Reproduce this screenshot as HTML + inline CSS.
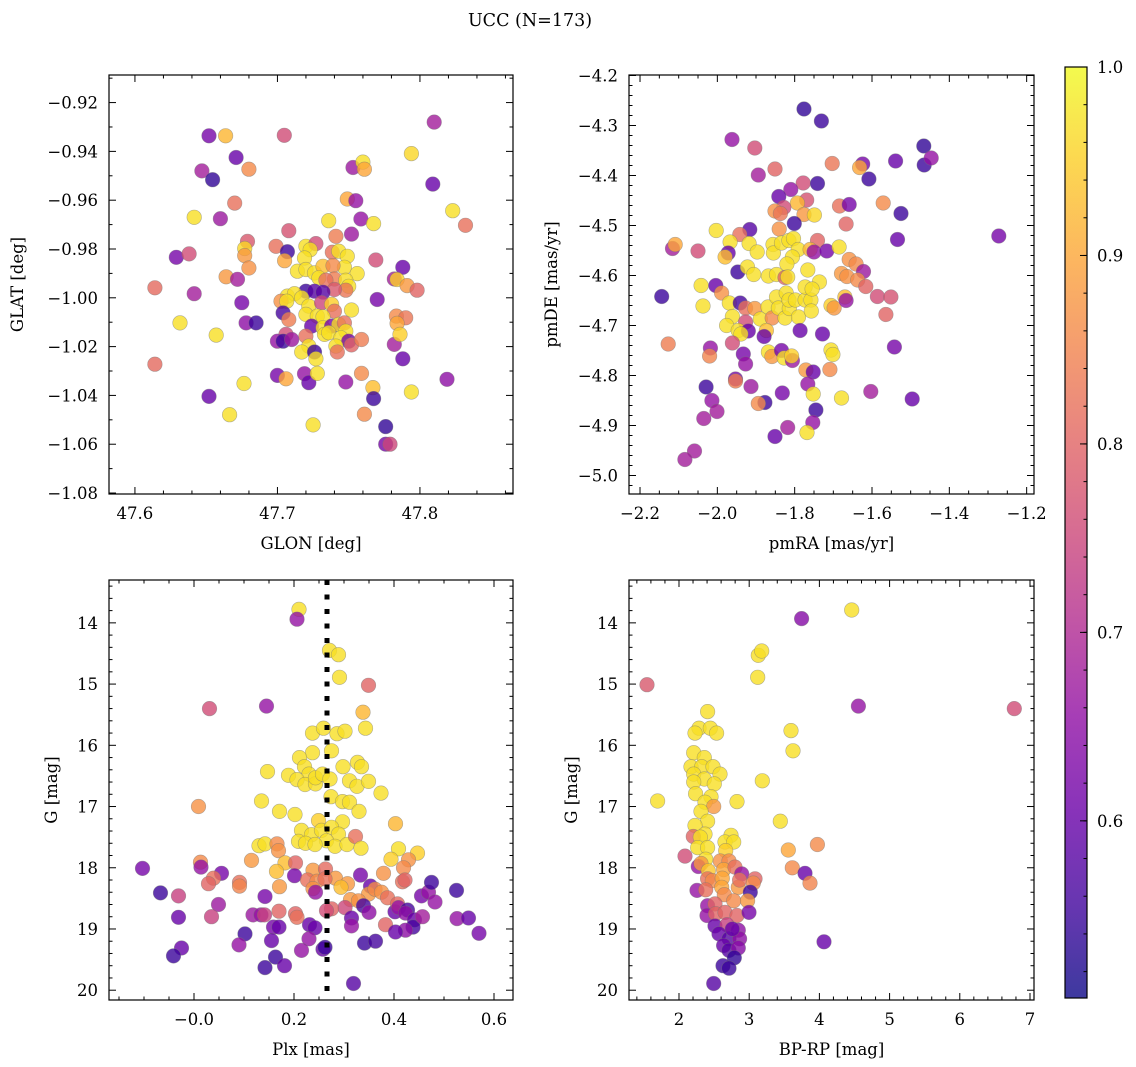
<!DOCTYPE html>
<html><head><meta charset="utf-8"><title>UCC (N=173)</title>
<style>
html,body{margin:0;padding:0;background:#fff;}
svg{display:block;font-family:"DejaVu Serif","Liberation Serif",serif;}
</style></head>
<body>
<svg id="fig" width="1136" height="1067" viewBox="0 0 1136 1067" xmlns="http://www.w3.org/2000/svg">
<defs>
<linearGradient id="plasmaGrad" x1="0" y1="1" x2="0" y2="0">
<stop offset="0" stop-color="#0d0887"/><stop offset="0.1" stop-color="#41049d"/><stop offset="0.2" stop-color="#6a00a8"/><stop offset="0.3" stop-color="#8f0da4"/><stop offset="0.4" stop-color="#b12a90"/><stop offset="0.5" stop-color="#cc4778"/><stop offset="0.6" stop-color="#e16462"/><stop offset="0.7" stop-color="#f2844b"/><stop offset="0.8" stop-color="#fca636"/><stop offset="0.9" stop-color="#fcce25"/><stop offset="1" stop-color="#f0f921"/>
</linearGradient>
</defs>
<text x="530" y="26" text-anchor="middle" font-size="17.5">UCC (N=173)</text>
</svg>
<script>
// ---------- data ----------
const glon=[47.652,47.6636,47.7048,47.810,47.671,47.647,47.6545,47.680,47.753,47.760,47.761,47.794,47.809,47.670,47.749,47.755,47.6416,47.660,47.823,47.832,47.736,47.7586,47.7675,47.708,47.741,47.752,47.679,47.677,47.677,47.680,47.699,47.707,47.705,47.720,47.727,47.723,47.719,47.714,47.720,47.726,47.732,47.729,47.7385,47.743,47.749,47.747,47.739,47.740,47.734,47.756,47.748,47.750,47.748,47.740,47.769,47.788,47.782,47.784,47.791,47.798,47.614,47.629,47.638,47.6416,47.664,47.672,47.675,47.678,47.685,47.6316,47.657,47.614,47.652,47.6664,47.6765,47.720,47.726,47.732,47.707,47.712,47.7025,47.7065,47.717,47.704,47.708,47.722,47.731,47.738,47.740,47.720,47.728,47.732,47.752,47.724,47.732,47.738,47.743,47.747,47.733,47.736,47.748,47.7445,47.750,47.752,47.759,47.720,47.722,47.717,47.726,47.727,47.741,47.742,47.706,47.700,47.704,47.710,47.782,47.7835,47.790,47.784,47.786,47.770,47.788,47.700,47.706,47.719,47.722,47.728,47.748,47.759,47.767,47.7675,47.761,47.725,47.794,47.819,47.776,47.776,47.779];
const glat=[-0.9336,-0.9336,-0.9334,-0.928,-0.9425,-0.948,-0.9516,-0.9473,-0.9466,-0.9444,-0.9473,-0.9409,-0.9534,-0.9612,-0.9595,-0.9602,-0.967,-0.9676,-0.9643,-0.9703,-0.9684,-0.9677,-0.9696,-0.9725,-0.9748,-0.9739,-0.9769,-0.9798,-0.9827,-0.9878,-0.9789,-0.9811,-0.9848,-0.9789,-0.9778,-0.9803,-0.9837,-0.9891,-0.9884,-0.9898,-0.9871,-0.9918,-0.9813,-0.9809,-0.983,-0.9875,-0.9868,-0.9923,-0.9928,-0.9901,-0.9928,-0.9953,-0.9969,-0.9966,-0.9845,-0.9875,-0.9923,-0.9925,-0.995,-0.9969,-0.9959,-0.9834,-0.982,-0.9983,-0.9914,-0.9924,-1.002,-1.0103,-1.0103,-1.0103,-1.0153,-1.0272,-1.0404,-1.0479,-1.0351,-0.9973,-0.9973,-0.9977,-0.9993,-0.9983,-1.0014,-1.0014,-1.0,-1.0062,-1.0089,-1.0034,-1.002,-1.0027,-1.0055,-1.0068,-1.0075,-1.0078,-1.005,-1.0116,-1.0123,-1.0116,-1.0109,-1.0103,-1.015,-1.0143,-1.0137,-1.0164,-1.0178,-1.0193,-1.0171,-1.0157,-1.0198,-1.0222,-1.0222,-1.025,-1.0198,-1.0222,-1.015,-1.0178,-1.0178,-1.0171,-1.0191,-1.0075,-1.0082,-1.0105,-1.015,-1.0007,-1.025,-1.0318,-1.0332,-1.0311,-1.0348,-1.031,-1.0345,-1.031,-1.0368,-1.0413,-1.0477,-1.0521,-1.0386,-1.0334,-1.0528,-1.06,-1.06];
const prob1=[0.62,0.92,0.76,0.68,0.6,0.68,0.54,0.86,0.67,0.97,0.9,0.96,0.6,0.82,0.9,0.66,0.97,0.67,0.97,0.82,0.97,0.66,0.97,0.77,0.84,0.67,0.78,0.96,0.88,0.87,0.82,0.55,0.9,0.97,0.76,0.97,0.97,0.97,0.97,0.97,0.93,0.97,0.82,0.97,0.97,0.97,0.86,0.84,0.82,0.97,0.97,0.97,0.83,0.78,0.76,0.6,0.68,0.95,0.88,0.8,0.81,0.62,0.76,0.68,0.88,0.68,0.62,0.65,0.55,0.97,0.97,0.81,0.6,0.97,0.97,0.55,0.58,0.58,0.97,0.97,0.87,0.97,0.97,0.56,0.84,0.97,0.75,0.95,0.82,0.97,0.97,0.97,0.97,0.6,0.97,0.62,0.97,0.82,0.97,0.97,0.97,0.97,0.62,0.8,0.84,0.82,0.97,0.97,0.55,0.97,0.97,0.82,0.76,0.66,0.55,0.67,0.68,0.86,0.83,0.9,0.95,0.62,0.6,0.62,0.9,0.66,0.6,0.97,0.66,0.86,0.93,0.55,0.86,0.97,0.97,0.65,0.54,0.62,0.75];

const pmra=[-1.776,-1.731,-1.962,-1.903,-1.894,-1.851,-1.778,-1.741,-1.810,-1.841,-1.769,-1.793,-1.828,-1.851,-1.837,-1.776,-1.749,-1.801,-1.840,-1.916,-1.942,-2.003,-2.116,-2.109,-2.050,-1.967,-1.918,-1.897,-1.972,-1.980,-1.856,-1.855,-1.834,-1.815,-1.803,-1.791,-1.806,-1.820,-1.741,-1.760,-1.750,-1.717,-1.685,-1.659,-1.641,-1.622,-1.947,-1.922,-1.906,-1.868,-1.847,-1.825,-1.818,-1.766,-1.736,-1.679,-1.665,-1.637,-1.616,-1.586,-1.551,-1.564,-1.534,-1.525,-1.272,-1.667,-1.684,-1.659,-1.703,-1.624,-1.632,-1.608,-1.571,-1.539,-1.466,-1.465,-1.447,-2.144,-2.042,-2.004,-1.989,-2.037,-1.969,-1.941,-1.927,-1.903,-1.961,-1.976,-1.927,-1.946,-1.920,-1.939,-1.889,-1.869,-1.858,-1.847,-1.842,-1.825,-1.822,-1.814,-1.815,-1.790,-1.798,-1.773,-1.758,-1.773,-1.755,-1.757,-1.786,-1.728,-1.706,-1.698,-1.670,-1.667,-1.873,-1.879,-2.127,-2.018,-2.020,-1.961,-1.933,-1.927,-1.868,-1.859,-1.834,-1.827,-1.806,-1.808,-1.706,-1.701,-1.709,-1.542,-1.771,-1.752,-1.953,-1.953,-1.913,-2.029,-1.766,-1.752,-1.679,-1.832,-1.603,-1.496,-2.014,-1.877,-1.894,-2.001,-2.035,-1.745,-1.818,-1.753,-1.851,-1.768,-2.059,-2.084];
const pmde=[-4.267,-4.291,-4.328,-4.345,-4.399,-4.387,-4.415,-4.416,-4.428,-4.442,-4.449,-4.455,-4.464,-4.471,-4.476,-4.478,-4.479,-4.496,-4.507,-4.508,-4.518,-4.510,-4.546,-4.538,-4.551,-4.533,-4.536,-4.553,-4.555,-4.563,-4.538,-4.555,-4.535,-4.530,-4.526,-4.548,-4.563,-4.577,-4.530,-4.548,-4.553,-4.551,-4.543,-4.568,-4.577,-4.592,-4.593,-4.583,-4.598,-4.601,-4.598,-4.604,-4.603,-4.589,-4.613,-4.596,-4.602,-4.609,-4.622,-4.642,-4.643,-4.678,-4.528,-4.476,-4.521,-4.497,-4.461,-4.458,-4.376,-4.377,-4.384,-4.407,-4.455,-4.371,-4.341,-4.379,-4.365,-4.642,-4.620,-4.620,-4.635,-4.661,-4.655,-4.655,-4.665,-4.666,-4.682,-4.700,-4.693,-4.710,-4.711,-4.717,-4.687,-4.663,-4.685,-4.643,-4.665,-4.685,-4.635,-4.666,-4.649,-4.683,-4.649,-4.649,-4.649,-4.623,-4.627,-4.671,-4.710,-4.717,-4.660,-4.665,-4.643,-4.650,-4.710,-4.722,-4.737,-4.745,-4.761,-4.735,-4.757,-4.777,-4.753,-4.762,-4.750,-4.765,-4.770,-4.761,-4.749,-4.758,-4.788,-4.743,-4.789,-4.793,-4.807,-4.811,-4.822,-4.823,-4.817,-4.837,-4.845,-4.835,-4.832,-4.847,-4.850,-4.854,-4.856,-4.872,-4.886,-4.869,-4.904,-4.894,-4.922,-4.914,-4.951,-4.968];
const prob2=[0.54,0.55,0.66,0.76,0.68,0.8,0.76,0.55,0.66,0.6,0.77,0.92,0.76,0.87,0.83,0.88,0.96,0.55,0.87,0.58,0.82,0.97,0.68,0.9,0.76,0.97,0.97,0.97,0.6,0.93,0.97,0.97,0.97,0.97,0.97,0.97,0.97,0.97,0.8,0.92,0.66,0.62,0.97,0.87,0.86,0.67,0.55,0.97,0.97,0.97,0.97,0.8,0.97,0.97,0.97,0.88,0.87,0.86,0.8,0.76,0.77,0.8,0.6,0.55,0.62,0.8,0.82,0.62,0.83,0.62,0.9,0.55,0.86,0.6,0.54,0.55,0.66,0.55,0.97,0.6,0.87,0.97,0.97,0.56,0.82,0.88,0.97,0.97,0.76,0.97,0.6,0.97,0.97,0.97,0.86,0.97,0.97,0.97,0.97,0.97,0.97,0.97,0.97,0.97,0.97,0.97,0.97,0.97,0.6,0.6,0.95,0.88,0.93,0.66,0.93,0.6,0.84,0.66,0.85,0.76,0.62,0.66,0.97,0.88,0.62,0.97,0.67,0.95,0.97,0.97,0.86,0.62,0.88,0.6,0.62,0.84,0.67,0.55,0.66,0.97,0.97,0.62,0.68,0.6,0.66,0.55,0.86,0.68,0.68,0.55,0.68,0.66,0.6,0.97,0.68,0.68];

const plx=[0.210,0.206,0.271,0.289,0.291,0.349,0.031,0.145,0.338,0.343,0.237,0.259,0.286,0.302,0.275,0.237,0.211,0.221,0.230,0.147,0.189,0.206,0.222,0.243,0.243,0.257,0.272,0.298,0.327,0.335,0.311,0.326,0.349,0.374,0.274,0.135,0.297,0.311,0.330,0.009,0.171,0.202,0.249,0.297,0.403,0.215,0.235,0.255,0.275,0.289,0.265,0.209,0.223,0.242,0.282,0.306,0.323,0.334,0.130,0.142,0.166,0.169,0.409,0.394,0.447,0.429,0.419,0.115,0.013,0.014,-0.103,0.182,0.165,0.203,0.201,0.238,0.263,0.283,0.307,0.294,0.227,0.246,0.238,0.243,0.262,0.333,0.379,0.417,0.422,0.171,0.055,0.039,0.029,0.091,0.091,-0.067,-0.031,0.049,-0.031,0.035,0.142,0.118,0.134,0.141,0.170,0.203,0.206,0.159,0.170,0.231,0.242,0.353,0.349,0.362,0.375,0.387,0.313,0.329,0.339,0.302,0.275,0.265,0.315,0.350,0.315,0.383,0.402,0.407,0.409,0.427,0.423,0.441,0.438,0.423,0.403,0.457,0.455,0.469,0.475,0.482,0.525,0.526,0.549,0.570,0.102,0.155,0.090,0.230,0.215,0.258,0.262,0.163,0.181,0.142,0.341,0.363,-0.025,-0.041,0.319];
const gmag3=[13.78,13.94,14.45,14.52,14.89,15.02,15.40,15.36,15.46,15.72,15.80,15.72,15.81,15.77,16.09,16.12,16.20,16.35,16.47,16.43,16.49,16.56,16.64,16.63,16.53,16.47,16.55,16.35,16.28,16.35,16.58,16.67,16.59,16.78,16.84,16.91,16.92,16.93,17.08,17.00,17.08,17.13,17.23,17.25,17.28,17.39,17.46,17.39,17.34,17.45,17.56,17.57,17.60,17.62,17.65,17.62,17.49,17.68,17.64,17.61,17.61,17.72,17.69,17.86,17.76,17.87,18.00,17.88,17.91,17.99,18.01,17.92,18.06,17.92,18.13,18.04,18.02,18.17,18.26,18.32,18.20,18.22,18.34,18.40,18.18,18.12,18.09,18.23,18.20,18.31,18.09,18.17,18.26,18.24,18.30,18.41,18.46,18.60,18.81,18.80,18.47,18.77,18.77,18.77,18.71,18.75,18.81,18.97,18.97,18.93,18.98,18.30,18.43,18.35,18.40,18.49,18.52,18.54,18.62,18.65,18.67,18.70,18.82,18.73,18.95,18.93,18.72,18.59,18.65,18.69,18.74,18.85,18.97,19.02,19.05,18.80,18.46,18.40,18.24,18.56,18.37,18.83,18.82,19.07,19.08,19.19,19.26,19.16,19.35,19.33,19.30,19.46,19.60,19.63,19.23,19.20,19.31,19.44,19.89];
const prob3=[0.97,0.66,0.97,0.97,0.97,0.8,0.76,0.66,0.92,0.97,0.97,0.97,0.97,0.97,0.97,0.97,0.97,0.97,0.97,0.97,0.97,0.97,0.97,0.97,0.97,0.97,0.97,0.97,0.97,0.97,0.97,0.97,0.97,0.97,0.97,0.97,0.97,0.97,0.97,0.87,0.97,0.97,0.95,0.97,0.92,0.97,0.97,0.97,0.97,0.97,0.97,0.97,0.97,0.97,0.97,0.97,0.82,0.97,0.97,0.97,0.86,0.87,0.97,0.95,0.95,0.87,0.86,0.88,0.86,0.66,0.62,0.93,0.93,0.8,0.62,0.88,0.81,0.88,0.88,0.93,0.82,0.86,0.87,0.66,0.82,0.62,0.87,0.82,0.8,0.88,0.62,0.82,0.8,0.82,0.85,0.55,0.74,0.67,0.6,0.74,0.62,0.67,0.66,0.74,0.8,0.8,0.82,0.62,0.6,0.6,0.6,0.6,0.88,0.86,0.87,0.82,0.88,0.87,0.56,0.75,0.8,0.76,0.6,0.65,0.66,0.8,0.6,0.81,0.66,0.56,0.65,0.6,0.56,0.65,0.6,0.68,0.62,0.66,0.55,0.66,0.55,0.66,0.6,0.62,0.55,0.6,0.66,0.66,0.66,0.6,0.55,0.55,0.6,0.55,0.55,0.56,0.6,0.55,0.58];
const plxMedian=0.266;

const bprp=[4.460,3.747,3.130,3.178,3.121,1.544,4.555,6.777,2.408,2.285,2.228,2.446,2.536,3.595,3.624,2.209,2.361,2.171,2.323,2.484,2.584,2.209,2.361,2.503,2.209,3.187,2.237,2.456,1.696,2.826,2.370,2.494,2.313,2.408,3.443,2.228,2.370,2.204,2.304,2.741,2.655,2.779,2.266,2.408,2.665,3.557,3.971,2.085,2.380,2.275,2.313,2.418,2.589,2.712,2.636,2.798,2.893,3.614,3.795,3.866,2.408,2.475,2.617,2.608,2.845,2.864,3.083,3.059,2.256,2.380,2.646,2.779,3.016,2.978,2.408,2.513,2.399,2.522,2.655,2.826,2.997,2.513,2.684,2.845,2.570,2.712,2.864,2.636,2.712,2.845,2.788,2.627,2.712,2.494,4.066,2.760];
const gmag4=[13.79,13.93,14.53,14.46,14.89,15.01,15.36,15.40,15.45,15.72,15.80,15.72,15.80,15.76,16.09,16.12,16.20,16.35,16.35,16.35,16.47,16.47,16.55,16.63,16.60,16.58,16.79,16.84,16.91,16.92,16.93,17.00,17.08,17.24,17.24,17.31,17.45,17.49,17.50,17.47,17.58,17.58,17.67,17.67,17.72,17.71,17.62,17.81,17.86,17.98,17.93,18.05,17.89,17.89,18.03,17.99,18.10,18.00,18.09,18.25,18.18,18.21,18.17,18.32,18.32,18.20,18.18,18.25,18.37,18.36,18.44,18.54,18.40,18.54,18.62,18.59,18.78,18.75,18.73,18.78,18.73,18.95,18.93,19.02,19.08,19.16,19.16,19.27,19.35,19.31,19.47,19.60,19.64,19.89,19.21,19.00];
const prob4=[0.97,0.64,0.97,0.97,0.97,0.78,0.66,0.76,0.97,0.97,0.97,0.97,0.97,0.97,0.97,0.97,0.97,0.97,0.97,0.97,0.97,0.97,0.97,0.97,0.97,0.97,0.97,0.97,0.97,0.97,0.97,0.88,0.97,0.97,0.97,0.97,0.97,0.8,0.97,0.97,0.97,0.97,0.97,0.97,0.95,0.9,0.86,0.76,0.97,0.66,0.88,0.94,0.87,0.86,0.9,0.82,0.66,0.86,0.6,0.85,0.82,0.86,0.9,0.9,0.88,0.82,0.8,0.86,0.66,0.82,0.86,0.86,0.55,0.88,0.66,0.8,0.66,0.8,0.8,0.8,0.62,0.6,0.74,0.65,0.6,0.58,0.65,0.6,0.58,0.64,0.54,0.55,0.55,0.58,0.6,0.6];

const cbTicks=[0.6,0.7,0.8,0.9,1.0];
const cbMin=0.506, cbMax=1.0;

// ---------- colormap ----------
const plasmaStops=[[13,8,135],[65,4,157],[106,0,168],[143,13,164],[177,42,144],[204,71,120],[225,100,98],[242,132,75],[252,166,54],[252,206,37],[240,249,33]];
function plasma(p){
  let t=(p-cbMin)/(cbMax-cbMin); t=Math.max(0,Math.min(1,t));
  const f=t*10, i=Math.min(9,Math.floor(f)), u=f-i;
  const a=plasmaStops[i], b=plasmaStops[i+1];
  return 'rgb('+a.map((v,k)=>Math.round(v+(b[k]-v)*u)).join(',')+')';
}

const NS='http://www.w3.org/2000/svg';
const svg=document.getElementById('fig');
function el(tag,attrs,parent){
  const e=document.createElementNS(NS,tag);
  for(const k in attrs) e.setAttribute(k,attrs[k]);
  (parent||svg).appendChild(e);
  return e;
}
function fmt(v,d){const s=v.toFixed(d);return s.replace('-','\u2212');}

function makeAxes(cfg){
  const g=el('g',{});
  
  
  const W=cfg.x1-cfg.x0, H=cfg.y1-cfg.y0;
  const sx=v=>cfg.x0+(v-cfg.xmin)/(cfg.xmax-cfg.xmin)*W;
  const sy=v=>cfg.y0+(v-cfg.ytop)/(cfg.ybot-cfg.ytop)*H;
  const pg=el('g',{},g);
  
  
  for(let i=0;i<cfg.xs.length;i++){
    const c=el('circle',{cx:sx(cfg.xs[i]).toFixed(1),cy:sy(cfg.ys[i]).toFixed(1),r:7.3,fill:plasma(cfg.cs[i]),'fill-opacity':0.8,stroke:'#777','stroke-opacity':0.55,'stroke-width':0.6},pg);
    
    
  }
  if(cfg.extra) cfg.extra(g,sx,sy);
  const fr=el('rect',{x:cfg.x0,y:cfg.y0,width:W,height:H,fill:'none',stroke:'#000','stroke-width':1.2},g);
  
  
  const tg=el('g',{stroke:'#000','stroke-width':1},g);
  
  
  const eps=1e-9;
  const lo=Math.min(cfg.xmin,cfg.xmax), hi=Math.max(cfg.xmin,cfg.xmax);
  for(let v=Math.ceil(lo/cfg.xminor-eps)*cfg.xminor; v<=hi+eps; v+=cfg.xminor){
    const isMaj=Math.abs(v/cfg.xmajor-Math.round(v/cfg.xmajor))<1e-6;
    const L=isMaj?7:3.5, x=sx(v);
    el('line',{x1:x,x2:x,y1:cfg.y1,y2:cfg.y1-L},tg);
    el('line',{x1:x,x2:x,y1:cfg.y0,y2:cfg.y0+L},tg);
    if(isMaj){
      const t=el('text',{x:x,y:cfg.y1+25,'text-anchor':'middle','font-size':16.5,stroke:'none',fill:'#000'},g);
      t.textContent=fmt(v,cfg.xdec);
      
      
    }
  }
  const ylo=Math.min(cfg.ytop,cfg.ybot), yhi=Math.max(cfg.ytop,cfg.ybot);
  for(let v=Math.ceil(ylo/cfg.yminor-eps)*cfg.yminor; v<=yhi+eps; v+=cfg.yminor){
    const isMaj=Math.abs(v/cfg.ymajor-Math.round(v/cfg.ymajor))<1e-6;
    const L=isMaj?7:3.5, y=sy(v);
    el('line',{x1:cfg.x0,x2:cfg.x0+L,y1:y,y2:y},tg);
    el('line',{x1:cfg.x1,x2:cfg.x1-L,y1:y,y2:y},tg);
    if(isMaj){
      const t=el('text',{x:cfg.x0-11,y:y+6,'text-anchor':'end','font-size':16.5,stroke:'none',fill:'#000'},g);
      t.textContent=fmt(v,cfg.ydec);
      
      
    }
  }
  const xt=el('text',{x:(cfg.x0+cfg.x1)/2,y:cfg.y1+55,'text-anchor':'middle','font-size':16.5},g);
  xt.textContent=cfg.xlabel;
  
  
  const yx=cfg.ylabelX, yy=(cfg.y0+cfg.y1)/2;
  const yt=el('text',{x:yx,y:yy,'text-anchor':'middle','font-size':16.5,transform:'rotate(-90 '+yx+' '+yy+')'},g);
  yt.textContent=cfg.ylabel;
  
  
}

makeAxes({name:'glon-glat-panel',x0:109,x1:513,y0:75,y1:494,xmin:47.5818,xmax:47.8653,ytop:-0.9087,ybot:-1.0804,
  xmajor:0.1,xminor:0.02,ymajor:0.02,yminor:0.01,xdec:1,ydec:2,xs:glon,ys:glat,cs:prob1,xlabel:'GLON [deg]',ylabel:'GLAT [deg]',ylabelX:23});
makeAxes({name:'pm-panel',x0:629,x1:1034,y0:75,y1:494,xmin:-2.2285,xmax:-1.181,ytop:-4.199,ybot:-5.037,
  xmajor:0.2,xminor:0.05,ymajor:0.1,yminor:0.02,xdec:1,ydec:1,xs:pmra,ys:pmde,cs:prob2,xlabel:'pmRA [mas/yr]',ylabel:'pmDE [mas/yr]',ylabelX:557});
makeAxes({name:'plx-g-panel',x0:109,x1:513,y0:580,y1:1000,xmin:-0.17,xmax:0.638,ytop:13.30,ybot:20.16,
  xmajor:0.2,xminor:0.05,ymajor:1,yminor:0.2,xdec:1,ydec:0,xs:plx,ys:gmag3,cs:prob3,xlabel:'Plx [mas]',ylabel:'G [mag]',ylabelX:57,
  extra:function(g,sx,sy){
    const x=sx(plxMedian);
    const l=el('line',{x1:x,x2:x,y1:580,y2:1000,stroke:'#000','stroke-width':5,'stroke-dasharray':'5,9.5'},g);
    
    
  }});
makeAxes({name:'cmd-panel',x0:629,x1:1034,y0:580,y1:1000,xmin:1.288,xmax:7.057,ytop:13.30,ybot:20.16,
  xmajor:1,xminor:0.2,ymajor:1,yminor:0.2,xdec:0,ydec:0,xs:bprp,ys:gmag4,cs:prob4,xlabel:'BP-RP [mag]',ylabel:'G [mag]',ylabelX:577});

(function(){
  const x0=1065,x1=1087,y0=67,y1=998;
  const g=el('g',{});
  
  
  el('rect',{x:x0,y:y0,width:x1-x0,height:y1-y0,fill:'url(#plasmaGrad)','fill-opacity':0.8},g);
  el('rect',{x:x0,y:y0,width:x1-x0,height:y1-y0,fill:'none',stroke:'#000','stroke-width':1.2},g);
  const sy=v=>y1-(v-cbMin)/(cbMax-cbMin)*(y1-y0);
  for(let v=0.52; v<1.0001; v+=0.02){
    const y=sy(v);
    el('line',{x1:x1,x2:x1-3.5,y1:y,y2:y,stroke:'#000','stroke-width':1},g);
  }
  cbTicks.forEach(v=>{
    const y=sy(v);
    el('line',{x1:x1,x2:x1-7,y1:y,y2:y,stroke:'#000','stroke-width':1},g);
    const t=el('text',{x:x1+10,y:y+6,'font-size':16.5},g);
    t.textContent=v.toFixed(1);
    
    
  });
})();
</script>
</body></html>
